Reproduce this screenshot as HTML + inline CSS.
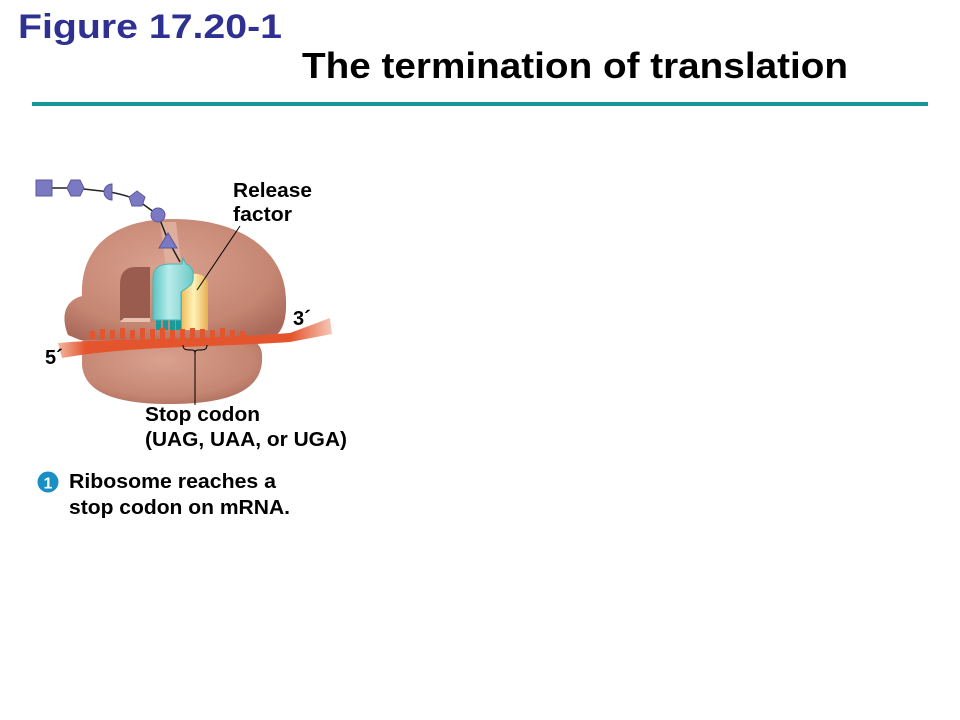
<!DOCTYPE html>
<html><head><meta charset="utf-8"><style>
html,body{margin:0;padding:0;background:#fff;}
svg{display:block;font-family:"Liberation Sans",Arial,sans-serif;font-weight:bold;}
</style></head><body>
<svg width="960" height="720" viewBox="0 0 960 720" xmlns="http://www.w3.org/2000/svg">
<defs>
<radialGradient id="rib" cx="0.45" cy="0.4" r="0.7">
<stop offset="0" stop-color="#d9a28f"/><stop offset="0.7" stop-color="#c58672"/><stop offset="1" stop-color="#a9695a"/>
</radialGradient>
<linearGradient id="yel" x1="0" x2="1"><stop offset="0" stop-color="#f0c060"/><stop offset="0.45" stop-color="#fff2b8"/><stop offset="1" stop-color="#e6b050"/></linearGradient>
<linearGradient id="teal" x1="0" x2="1"><stop offset="0" stop-color="#5cc4c4"/><stop offset="0.4" stop-color="#b8ecea"/><stop offset="1" stop-color="#6cc8c6"/></linearGradient>
<linearGradient id="mr" x1="0" x2="1"><stop offset="0" stop-color="#f3b8a0"/><stop offset="0.1" stop-color="#e4552e"/><stop offset="0.85" stop-color="#e4552e"/><stop offset="1" stop-color="#f5c8b8"/></linearGradient>
</defs>
<text x="18" y="38" font-size="34" fill="#2e3192" textLength="264" lengthAdjust="spacingAndGlyphs">Figure 17.20-1</text>
<text x="302" y="78" font-size="36" fill="#000" textLength="546" lengthAdjust="spacingAndGlyphs">The termination of translation</text>
<rect x="32" y="102" width="896" height="4" fill="#13989a"/>

<path d="M82,345 C78,330 120,330 170,332 C230,330 262,335 262,355 C264,385 240,404 170,404 C110,404 84,390 82,365 Z" fill="url(#rib)"/>
<path d="M68,335 C60,315 66,300 82,296 C80,250 110,220 170,219 C240,218 285,250 286,300 C287,325 280,338 265,340 L80,340 Z" fill="url(#rib)"/>
<path d="M160,222 L176,222 L182,270 L166,270 Z" fill="#e2b4a3" opacity="0.8"/>
<path d="M120,285 C120,270 128,267 136,267 L150,267 L150,320 L120,320 Z" fill="#9a5c4e"/>
<path d="M124,318 L150,318 L150,322 L120,322 Z" fill="#e8c0b0"/>
<path d="M44,188 L75,188 L110,192 C125,195 135,198 140,202 L158,215 L168,240 L180,262" stroke="#222" stroke-width="1.5" fill="none"/>
<rect x="36" y="180" width="16" height="16" fill="#7b79c2" stroke="#5a58a0"/>
<polygon points="67,188 71,180 80,180 84,188 80,196 71,196" fill="#7b79c2" stroke="#5a58a0"/>
<path d="M112,184 A8,8 0 0 0 112,200 Z" fill="#7b79c2" stroke="#5a58a0"/>
<polygon points="137,191 145,197 142,206 132,206 129,197" fill="#7b79c2" stroke="#5a58a0"/>
<circle cx="158" cy="215" r="7" fill="#7b79c2" stroke="#5a58a0"/>
<polygon points="168,233 177,248 159,248" fill="#7b79c2" stroke="#5a58a0"/>
<path d="M182,330 L182,285 C182,270 208,270 208,285 L208,330 Z" fill="url(#yel)"/>
<rect x="156" y="316" width="5" height="14" fill="#1a9a98"/><rect x="163" y="316" width="5" height="14" fill="#1a9a98"/><rect x="170" y="316" width="5" height="14" fill="#1a9a98"/><rect x="176" y="316" width="5" height="14" fill="#1a9a98"/>
<path d="M153,320 L153,278 C153,268 160,264 170,264 L182,264 L183,258 L186,264 C192,266 194,272 193,280 C192,287 185,288 181,292 L181,320 Z" fill="url(#teal)" stroke="#49b3b2" stroke-width="1"/>
<path d="M58,343 C120,338 200,340 290,333 L330,318 L332,334 L290,342 C200,348 130,346 62,358 Z" fill="url(#mr)"/>
<g fill="#e4552e">
<rect x="90" y="331" width="5" height="8"/><rect x="100" y="329" width="5" height="10"/><rect x="110" y="330" width="5" height="9"/><rect x="120" y="328" width="5" height="11"/><rect x="130" y="330" width="5" height="9"/><rect x="140" y="328" width="5" height="11"/><rect x="150" y="329" width="5" height="10"/><rect x="160" y="328" width="5" height="11"/><rect x="170" y="330" width="5" height="9"/><rect x="180" y="329" width="5" height="10"/><rect x="190" y="328" width="5" height="11"/><rect x="200" y="329" width="5" height="10"/><rect x="210" y="330" width="5" height="9"/><rect x="220" y="328" width="5" height="11"/><rect x="230" y="330" width="5" height="9"/><rect x="240" y="331" width="5" height="8"/>
</g>
<line x1="240" y1="226" x2="197" y2="290" stroke="#000" stroke-width="1"/>
<path d="M183,345 C183,350 186,350 192,350 C195,350 195,352 195,354 C195,352 195,350 198,350 C204,350 207,350 207,345" stroke="#000" fill="none" stroke-width="1"/>
<line x1="195" y1="354" x2="195" y2="405" stroke="#000" stroke-width="1"/>
<g font-size="20" fill="#000">
<text x="233" y="197" textLength="79" lengthAdjust="spacingAndGlyphs">Release</text>
<text x="233" y="221" textLength="59" lengthAdjust="spacingAndGlyphs">factor</text>
<text x="293" y="325">3´</text>
<text x="45" y="364">5´</text>
<text x="145" y="421" textLength="115" lengthAdjust="spacingAndGlyphs">Stop codon</text>
<text x="145" y="446" textLength="202" lengthAdjust="spacingAndGlyphs">(UAG, UAA, or UGA)</text>
<text x="69" y="488" textLength="207" lengthAdjust="spacingAndGlyphs">Ribosome reaches a</text>
<text x="69" y="514" textLength="221" lengthAdjust="spacingAndGlyphs">stop codon on mRNA.</text>
</g>
<circle cx="48" cy="482" r="10.5" fill="#1a8fc4"/>
<text x="48" y="488.5" font-size="16" fill="#fff" text-anchor="middle">1</text>
</svg>
</body></html>
